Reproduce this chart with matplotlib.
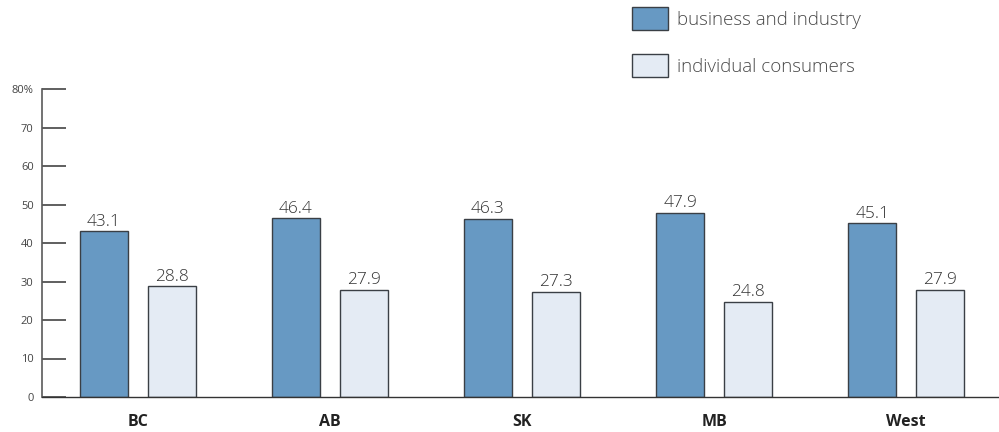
import matplotlib
matplotlib.use('Agg')
import matplotlib.pyplot as plt
import numpy as np
from matplotlib.patches import Patch

regions = ['BC', 'AB', 'SK', 'MB', 'West']
business = [43.1, 46.4, 46.3, 47.9, 45.1]
consumers = [28.8, 27.9, 27.3, 24.8, 27.9]
y_ticks = [0, 10, 20, 30, 40, 50, 60, 70, 80]
y_tick_labels = ['0', '10', '20', '30', '40', '50', '60', '70', '80%']

plt.rcParams['font.family'] = ['Open Sans', 'DejaVu Sans']

blue = '#6799c3'
light = '#e4ebf4'
edge = '#3a3f45'
axis_grey = '#5a5a5a'
text_grey = '#333333'

fig = plt.figure(figsize=(9.99, 4.32), dpi=100)
ax = fig.add_axes([42 / 999, 35 / 432, 957 / 999, 308 / 432])

x = np.arange(len(regions))
width = 0.25
offset = 0.177

b1 = ax.bar(x - offset, business, width, color=blue, edgecolor=edge, linewidth=1.0, zorder=2)
b2 = ax.bar(x + offset, consumers, width, color=light, edgecolor=edge, linewidth=1.0, zorder=2)

for bars, vals in ((b1, business), (b2, consumers)):
    for rect, v in zip(bars, vals):
        ax.text(rect.get_x() + rect.get_width() / 2, v + 0.4, f'{v:.1f}',
                ha='center', va='bottom', fontsize=12.5, color=text_grey, fontweight='light')

ax.set_xlim(-0.498, 4.483)
ax.set_ylim(0, 80)
ax.set_yticks(y_ticks)
ax.set_yticklabels(y_tick_labels)
ax.set_xticks(x)
ax.set_xticklabels(regions, fontsize=11.5, fontweight='bold', color='#222222')

ax.tick_params(axis='y', direction='in', length=17, width=1.2, color='#444444',
               labelsize=8, labelcolor='#444444', pad=6)
ax.tick_params(axis='x', length=0, pad=12)

for side in ('top', 'right'):
    ax.spines[side].set_visible(False)
ax.spines['left'].set_color(axis_grey)
ax.spines['left'].set_linewidth(1.2)
ax.spines['bottom'].set_color('#333333')
ax.spines['bottom'].set_linewidth(1.0)

# legend boxes sit top right, above the plot area
handles = [Patch(facecolor=blue, edgecolor=edge, linewidth=1.0),
           Patch(facecolor=light, edgecolor=edge, linewidth=1.0)]
fig.legend(handles, ['business and industry', 'individual consumers'],
           loc='upper left', bbox_to_anchor=(625 / 999, 1.0), frameon=False,
           prop={'size': 13.5, 'weight': 'light'}, labelcolor='#4a4a4a',
           handlelength=1.92, handleheight=1.54,
           handletextpad=0.5, labelspacing=1.25, borderaxespad=0.0, borderpad=0.37)

fig.savefig('out.png', dpi=100)
